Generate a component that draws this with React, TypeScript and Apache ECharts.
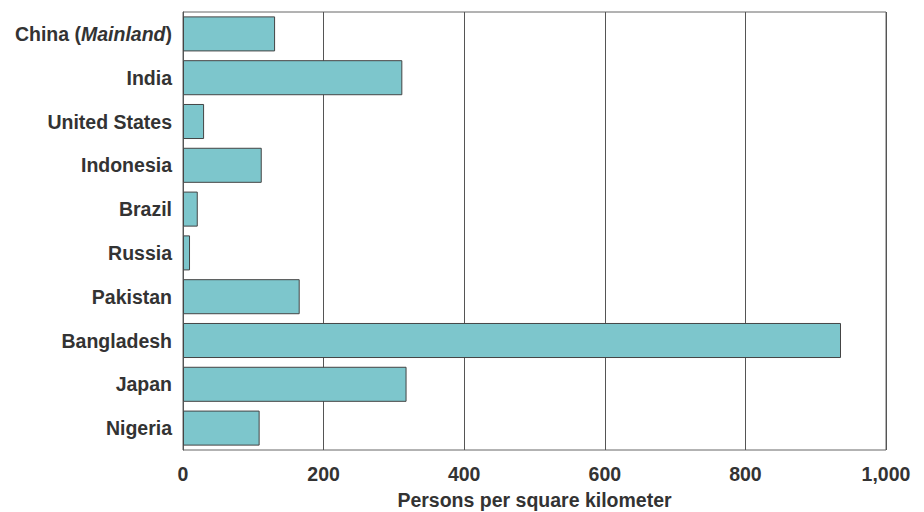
import React, { useEffect, useRef } from "react";
import * as echarts from "echarts";

const categories = [
  "China (Mainland)",
  "India",
  "United States",
  "Indonesia",
  "Brazil",
  "Russia",
  "Pakistan",
  "Bangladesh",
  "Japan",
  "Nigeria",
];
const density = [131, 312, 30, 112, 21, 10, 166, 936, 318, 109];
const xTicks = { min: 0, max: 1000, interval: 200 };
const xAxisTitle = "Persons per square kilometer";

export default function App() {
  const ref = useRef<HTMLDivElement>(null);
  useEffect(() => {
    if (!ref.current) return;
    const chart = echarts.init(ref.current, null, { renderer: "svg" });
    const font = "'Liberation Sans', Arial, Helvetica, sans-serif";
    const txt = "#333333";
    const fs = 19.5;
    chart.setOption({
      animation: false,
      backgroundColor: "#ffffff",
      textStyle: { fontFamily: font },
      grid: {
        left: 183,
        right: 38,
        top: 12,
        bottom: 62,
        containLabel: false,
        outerBoundsMode: "none",
        show: true,
        borderColor: "#666",
        borderWidth: 1,
        backgroundColor: "transparent",
      },
      xAxis: {
        type: "value",
        min: xTicks.min,
        max: xTicks.max,
        interval: xTicks.interval,
        axisLine: { show: false },
        axisTick: { show: false },
        splitLine: { show: true, lineStyle: { color: "#555", width: 1 } },
        axisLabel: {
          color: txt,
          fontSize: fs,
          fontWeight: "bold",
          fontFamily: font,
          margin: 14,
          formatter: (v: number) => v.toLocaleString("en-US"),
        },
        name: xAxisTitle,
        nameLocation: "middle",
        nameGap: 40,
        nameTextStyle: { color: txt, fontSize: fs, fontWeight: "bold", fontFamily: font },
      },
      yAxis: {
        type: "category",
        data: categories,
        inverse: true,
        axisLine: { show: true, lineStyle: { color: "#555", width: 1 } },
        axisTick: { show: false },
        splitLine: { show: false },
        axisLabel: {
          margin: 11,
          formatter: (v: string) => {
            const m = v.match(/^(.*)\((.*)\)$/);
            if (m) return `{n|${m[1]}(}{i|${m[2]}}{n|)}`;
            return `{n|${v}}`;
          },
          rich: {
            n: { color: txt, fontSize: fs, fontWeight: "bold", fontFamily: font },
            i: { color: txt, fontSize: fs, fontWeight: "bold", fontFamily: font, fontStyle: "italic" },
          },
        },
      },
      series: [
        {
          type: "bar",
          data: density,
          barCategoryGap: "20%",
          itemStyle: { color: "#7dc6cc", borderColor: "#444", borderWidth: 1 },
        },
      ],
    });
    return () => chart.dispose();
  }, []);
  return (
    <div
      ref={ref}
      style={{ position: "fixed", left: 0, top: 0, width: 924, height: 512 }}
    />
  );
}
